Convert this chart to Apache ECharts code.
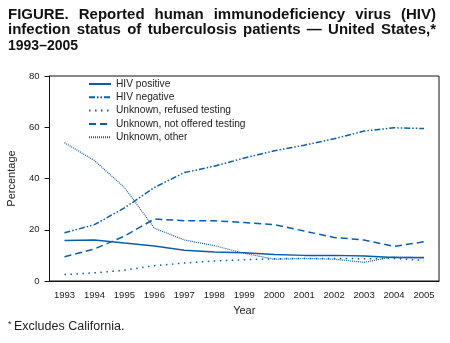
<!DOCTYPE html>
<html><head><meta charset="utf-8">
<script src="https://cdn.jsdelivr.net/npm/echarts@6/dist/echarts.min.js"></script>
<style>html,body{margin:0;padding:0;background:#fff;}#c{width:450px;height:343px;}</style>
</head><body><div id="c"></div>
<script>
const years = ['1993','1994','1995','1996','1997','1998','1999','2000','2001','2002','2003','2004','2005'];
const hivPositive = [15.8,16.0,14.8,13.7,12.0,11.3,11.0,10.3,10.0,10.0,9.8,9.2,9.1];
const hivNegative = [18.8,22.0,28.5,36.5,42.3,44.8,48.0,50.8,53.0,55.5,58.5,59.8,59.5];
const refused = [2.5,3.2,4.2,6.0,7.0,7.8,8.3,8.7,8.8,8.8,8.7,8.8,8.0];
const notOffered = [9.5,12.5,17.5,24.2,23.5,23.5,22.8,22.0,19.5,17.0,16.0,13.5,15.3];
const other = [54.0,47.0,36.5,20.6,16.0,13.8,10.8,8.5,8.8,8.5,7.3,9.5,9.3];
const yTicks = [0,20,40,60,80];
const titleLines = ['FIGURE. Reported human immunodeficiency virus (HIV)',
  'infection status of tuberculosis patients \u2014 United States,*',
  '1993\u20132005'];

const blue = '#0b5daa';
const font = '"Liberation Sans", Arial, sans-serif';
const titleFont = 'bold 14px ' + font;
const ctx = document.createElement('canvas').getContext('2d');
ctx.font = titleFont;
const sx = 1.07;
const titleLeft = 8, titleRight = 436, titleTop = 8, titleLH = 15.5;
const titleGraphics = [];
titleLines.forEach((line, i) => {
  const y = titleTop + i * titleLH;
  if (i === titleLines.length - 1) {
    titleGraphics.push({type:'text', x:titleLeft, y, style:{text:line, font:titleFont, fill:'#111', textVerticalAlign:'top'}});
    return;
  }
  const words = line.split(' ');
  const widths = words.map(w => ctx.measureText(w).width * sx);
  const total = widths.reduce((a,b)=>a+b,0);
  const gap = (titleRight - titleLeft - total) / (words.length - 1);
  let x = titleLeft;
  words.forEach((w, j) => {
    titleGraphics.push({type:'text', x, y, scaleX:sx, style:{text:w, font:titleFont, fill:'#111', textVerticalAlign:'top'}});
    x += widths[j] + gap;
  });
});

const chart = echarts.init(document.getElementById('c'));
function s(name, data, type, width) {
  return {name, type:'line', data, symbol:'none', smooth:false,
    lineStyle:{color:blue, width:width||1.5, type}, itemStyle:{color:blue}};
}
chart.setOption({
  animation:false,
  graphic:titleGraphics.concat([
    {type:'text', x:8, y:320, style:{text:'*', font:'9px '+font, fill:'#222', textVerticalAlign:'top'}},
    {type:'text', x:14, y:320, style:{text:'Excludes California.', font:'12.5px '+font, fill:'#222', textVerticalAlign:'top'}}
  ]),
  legend:{
    orient:'vertical', left:88, top:79, padding:0, itemWidth:22, itemHeight:10, itemGap:3.3,
    itemStyle:{opacity:0},
    textStyle:{fontFamily:font, fontSize:10.2, color:'#222'},
    data:['HIV positive','HIV negative','Unknown, refused testing','Unknown, not offered testing','Unknown, other']
  },
  grid:{left:49.5, right:11, top:76, bottom:62, show:true, borderColor:'#111', borderWidth:1,
    containLabel:false, outerBoundsMode:'none'},
  xAxis:{
    type:'category', data:years, boundaryGap:true,
    name:'Year', nameLocation:'middle', nameGap:24,
    nameTextStyle:{fontFamily:font, fontSize:11, color:'#222'},
    axisLine:{lineStyle:{color:'#111'}},
    axisTick:{alignWithLabel:true, length:5, lineStyle:{color:'#111'}},
    axisLabel:{fontFamily:font, fontSize:9.5, color:'#222', margin:9, interval:0},
    splitLine:{show:false}
  },
  yAxis:{
    type:'value', min:yTicks[0], max:yTicks[yTicks.length-1], interval:20,
    name:'Percentage', nameLocation:'middle', nameGap:32,
    nameTextStyle:{fontFamily:font, fontSize:11, color:'#222'},
    axisLine:{show:true, lineStyle:{color:'#111'}},
    axisTick:{show:true, length:5, lineStyle:{color:'#111'}},
    axisLabel:{fontFamily:font, fontSize:9.5, color:'#222', margin:10},
    splitLine:{show:false}
  },
  series:[
    s('HIV positive', hivPositive, 'solid', 1.5),
    s('HIV negative', hivNegative, [6,2,1.5,2,1.5,2], 1.5),
    s('Unknown, refused testing', refused, [1.5,4.5], 1.5),
    s('Unknown, not offered testing', notOffered, [7,4], 1.5),
    s('Unknown, other', other, [1,1], 1.2)
  ]
});
</script></body></html>
